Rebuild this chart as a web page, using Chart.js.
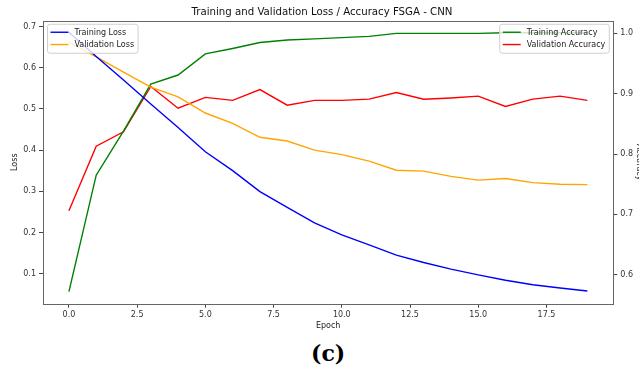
<!DOCTYPE html>
<html>
<head>
<meta charset="utf-8">
<script src="https://cdn.jsdelivr.net/npm/chart.js@4.4.1/dist/chart.umd.min.js"></script>
<style>
  html, body { margin: 0; padding: 0; background: #fff; overflow: hidden; }
  #wrap { position: relative; width: 639px; height: 371px; overflow: hidden; }
  #chart { position: absolute; left: 0; top: 0; }
  #caption {
    position: absolute; left: 311px; top: 342px;
    font-family: "DejaVu Serif", serif; font-weight: bold; font-size: 22px; line-height: 22px;
    color: #000;
  }
</style>
</head>
<body>
<div id="wrap">
  <canvas id="chart" width="644" height="334"></canvas>
  <div id="caption">(c)</div>
</div>
<script>
// values
const epochs = [0, 1, 2, 3, 4, 5, 6, 7, 8, 9, 10, 11, 12, 13, 14, 15, 16, 17, 18, 19];
const trainLoss = [0.686, 0.627, 0.570, 0.512, 0.455, 0.396, 0.350, 0.299, 0.261, 0.223,
                   0.194, 0.170, 0.145, 0.127, 0.111, 0.097, 0.084, 0.073, 0.065, 0.058];
const valLoss = [0.662, 0.626, 0.589, 0.553, 0.529, 0.490, 0.465, 0.431, 0.422, 0.400,
                 0.389, 0.373, 0.351, 0.349, 0.336, 0.327, 0.331, 0.321, 0.317, 0.316];
const trainAcc = [0.572, 0.765, 0.838, 0.916, 0.931, 0.966, 0.975, 0.985, 0.989, 0.991,
                  0.993, 0.995, 1.000, 1.000, 1.000, 1.000, 1.001, 1.001, 1.001, 1.001];
const valAcc = [0.706, 0.813, 0.837, 0.912, 0.876, 0.894, 0.889, 0.907, 0.881, 0.889,
                0.889, 0.891, 0.902, 0.891, 0.893, 0.896, 0.879, 0.891, 0.896, 0.889];

const xTicks = [0, 2.5, 5, 7.5, 10, 12.5, 15, 17.5];
const lossTicks = [0.1, 0.2, 0.3, 0.4, 0.5, 0.6, 0.7];
const accTicks = [0.6, 0.7, 0.8, 0.9, 1.0];

const FONT = "DejaVu Sans";

function pts(vals) {
  return epochs.map((e, i) => ({ x: e, y: vals[i] }));
}

function fixTicks(list) {
  return function (scale) { scale.ticks = list.map(v => ({ value: v })); };
}

// box round the plot, like matplotlib spines
const framePlugin = {
  id: 'frame',
  afterDraw(chart) {
    const a = chart.chartArea, ctx = chart.ctx;
    ctx.save();
    ctx.strokeStyle = '#666';
    ctx.lineWidth = 1;
    ctx.strokeRect(Math.round(a.left) + 0.5, Math.round(a.top) + 0.5,
                   Math.round(a.right - a.left), Math.round(a.bottom - a.top));
    ctx.restore();
  }
};

// two matplotlib style legends: loss at upper left, accuracy at upper right
const legendsPlugin = {
  id: 'twoLegends',
  afterDatasetsDraw(chart) {
    const ctx = chart.ctx, a = chart.chartArea;
    const ds = chart.data.datasets;
    ctx.save();
    ctx.font = '8px "' + FONT + '"';
    function drawLegend(items, anchor) {
      const textW = Math.max(...items.map(d => ctx.measureText(d.label).width));
      const w = 27 + textW + 4, h = 29;
      const left = anchor === 'left' ? a.left + 4.5 : a.right - 4 - w;
      const top = a.top + 3.5;
      ctx.beginPath();
      ctx.roundRect(left, top, w, h, 2.5);
      ctx.fillStyle = 'rgba(255,255,255,0.8)';
      ctx.fill();
      ctx.strokeStyle = '#d0d0d0';
      ctx.lineWidth = 1;
      ctx.stroke();
      items.forEach((d, i) => {
        const y = top + 8 + i * 12.3;
        ctx.beginPath();
        ctx.moveTo(left + 3, y);
        ctx.lineTo(left + 21, y);
        ctx.strokeStyle = d.borderColor;
        ctx.lineWidth = 1.4;
        ctx.stroke();
        ctx.fillStyle = '#222';
        ctx.textBaseline = 'middle';
        ctx.textAlign = 'left';
        ctx.fillText(d.label, left + 27, y + 0.5);
      });
    }
    drawLegend(ds.filter(d => d.yAxisID === 'y'), 'left');
    drawLegend(ds.filter(d => d.yAxisID === 'y1'), 'right');
    ctx.restore();
  }
};

const tickFont = { family: FONT, size: 8 };
const tickGrid = { drawOnChartArea: false, drawTicks: true, tickLength: 4, color: '#444', lineWidth: 1 };

new Chart(document.getElementById('chart'), {
  type: 'line',
  data: {
    datasets: [
      { label: 'Training Loss', data: pts(trainLoss), borderColor: '#0000ff', yAxisID: 'y' },
      { label: 'Validation Loss', data: pts(valLoss), borderColor: '#ffa500', yAxisID: 'y' },
      { label: 'Training Accuracy', data: pts(trainAcc), borderColor: '#008000', yAxisID: 'y1' },
      { label: 'Validation Accuracy', data: pts(valAcc), borderColor: '#ff0000', yAxisID: 'y1' }
    ]
  },
  options: {
    responsive: false,
    animation: false,
    layout: { padding: 0 },
    elements: {
      line: { borderWidth: 1.4, tension: 0, fill: false },
      point: { radius: 0 }
    },
    plugins: {
      legend: { display: false },
      tooltip: { enabled: false },
      title: {
        display: true,
        text: 'Training and Validation Loss / Accuracy FSGA - CNN',
        color: '#111',
        font: { family: FONT, size: 10.2, weight: 'normal' },
        padding: { top: 6, bottom: 2.5 }
      }
    },
    scales: {
      x: {
        type: 'linear',
        min: -0.95, max: 19.95,
        afterBuildTicks: fixTicks(xTicks),
        afterFit(s) { s.height = 334 - 303.7; },
        border: { display: false },
        grid: tickGrid,
        ticks: { font: tickFont, color: '#333', padding: 2, callback: v => v.toFixed(1), maxRotation: 0 },
        title: { display: true, text: 'Epoch', color: '#222', font: { family: FONT, size: 8 }, padding: { top: 0, bottom: 3 } }
      },
      y: {
        position: 'left',
        min: 0.027, max: 0.714,
        afterBuildTicks: fixTicks(lossTicks),
        afterFit(s) { s.width = 43; },
        border: { display: false },
        grid: tickGrid,
        ticks: { font: tickFont, color: '#333', padding: 3, callback: v => v.toFixed(1) },
        title: { display: true, text: 'Loss', color: '#222', font: { family: FONT, size: 8 }, padding: { top: 10, bottom: 0 } }
      },
      y1: {
        position: 'right',
        min: 0.552, max: 1.021,
        afterBuildTicks: fixTicks(accTicks),
        afterFit(s) { s.width = 644 - 613.3; },
        border: { display: false },
        grid: tickGrid,
        ticks: { font: tickFont, color: '#333', padding: 3, callback: v => v.toFixed(1) },
        title: { display: true, text: 'Accuracy', color: '#222', font: { family: FONT, size: 8 }, padding: { top: 0, bottom: 0 } }
      }
    }
  },
  plugins: [framePlugin, legendsPlugin]
});
</script>
</body>
</html>
